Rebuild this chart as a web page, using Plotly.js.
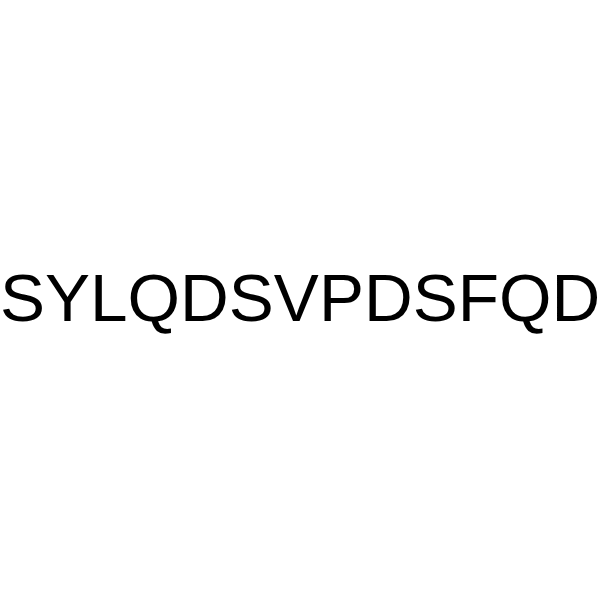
<!DOCTYPE html>
<html>
<head>
<meta charset="utf-8">
<script src="https://cdn.plot.ly/plotly-3.0.1.min.js"></script>
<style>html,body{margin:0;padding:0;background:#fff;}#chart{width:600px;height:600px;}</style>
</head>
<body>
<div id="chart"></div>
<script>
var labels = ["SYLQDSVPDSFQD"];
var labelX = [0.5];
var labelY = [0.505];

var annotations = labels.map(function (t, i) {
  return {
    text: t, x: labelX[i], y: labelY[i], xref: 'paper', yref: 'paper',
    xanchor: 'center', yanchor: 'middle', showarrow: false,
    font: {family: 'Liberation Sans, Arial, sans-serif', size: 67.5, color: '#000000'}
  };
});

Plotly.newPlot('chart', [], {
  width: 600, height: 600,
  margin: {l: 0, r: 0, t: 0, b: 0},
  paper_bgcolor: '#ffffff', plot_bgcolor: '#ffffff',
  xaxis: {visible: false, range: [0, 1]},
  yaxis: {visible: false, range: [0, 1]},
  showlegend: false,
  annotations: annotations
}, {staticPlot: true, displayModeBar: false});
</script>
</body>
</html>
